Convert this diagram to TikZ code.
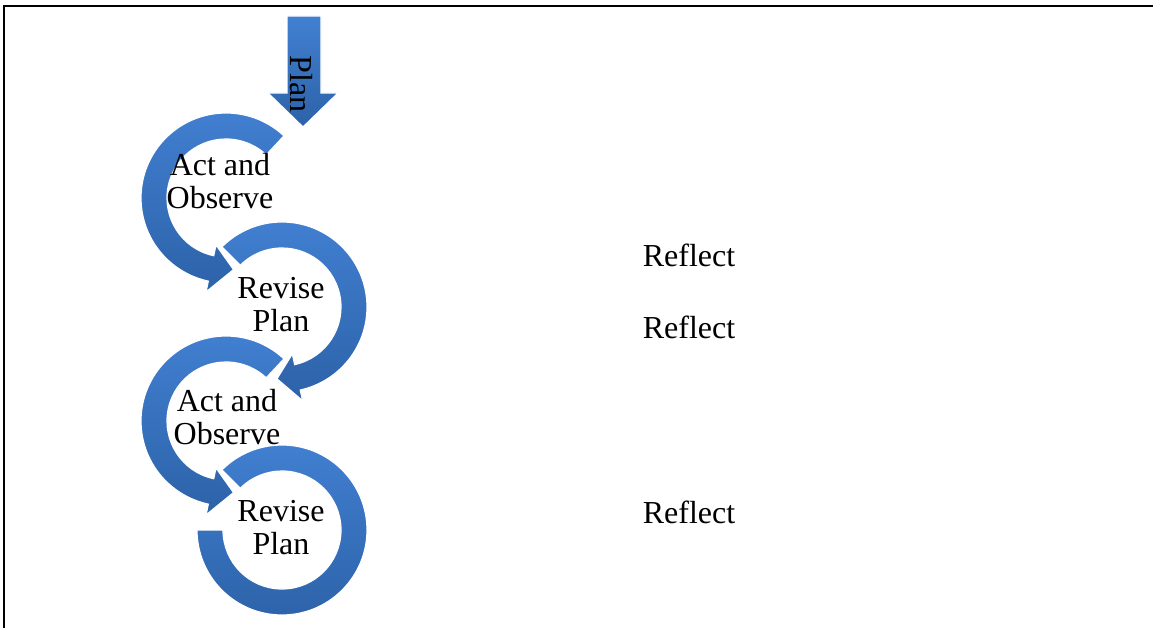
\documentclass[tikz,border=0pt]{standalone}
\usepackage{fontspec}
\setmainfont{Liberation Serif}
\definecolor{arcLight}{RGB}{66,128,210}
\definecolor{arcDark}{RGB}{44,98,168}
\begin{document}
\begin{tikzpicture}[x=1pt,y=1pt,
  arcshape/.style={top color=arcLight,bottom color=arcDark,draw=white,line width=1.2pt},
  lbl/.style={font=\fontsize{32}{33}\selectfont,align=center,inner sep=0pt,text=black}]
\useasboundingbox (0,0) rectangle (1153,-628);
% frame
\draw[line width=2pt] (4,-628) -- (4,-6) -- (1153,-6);
% Plan arrow
\path[arcshape] (287,-16) -- (321,-16) -- (321,-93) -- (338,-93) -- (303,-127) -- (268,-93) -- (287,-93) -- cycle;
\node[lbl,rotate=-90] (plan) at (301,-84) {Plan};
% circle 1
\begin{scope}[shift={(226,-198)}]
\path[arcshape] (47:85) arc[start angle=47,end angle=258,radius=85] -- (258:96) -- (276:72) -- (258:48) -- (258:59) arc[start angle=258,end angle=47,radius=59] -- cycle;
\end{scope}
% circle 2
\begin{scope}[shift={(282,-307)}]
\path[arcshape] (135:85) arc[start angle=135,end angle=-77.6,radius=85] -- (-77.6:96) -- (-94:72) -- (-77.6:48) -- (-77.6:59) arc[start angle=-77.6,end angle=135,radius=59] -- cycle;
\end{scope}
% circle 3
\begin{scope}[shift={(226,-421)}]
\path[arcshape] (47:85) arc[start angle=47,end angle=258,radius=85] -- (258:96) -- (276:72) -- (258:48) -- (258:59) arc[start angle=258,end angle=47,radius=59] -- cycle;
\end{scope}
% circle 4
\begin{scope}[shift={(282,-530)}]
\path[arcshape] (135:85) arc[start angle=135,end angle=-180,radius=85] -- (180:59) arc[start angle=-180,end angle=135,radius=59] -- cycle;
\end{scope}
% labels
\node[lbl] (ao1) at (220,-181) {Act and\\Observe};
\node[lbl] (rp2) at (281,-305) {Revise\\Plan};
\node[lbl] (ao3) at (227,-417) {Act and\\Observe};
\node[lbl] (rp4) at (281,-528) {Revise\\Plan};
\node[lbl] (rf1) at (689,-255) {Reflect};
\node[lbl] (rf2) at (689,-327) {Reflect};
\node[lbl] (rf3) at (689,-512) {Reflect};
\end{tikzpicture}
\end{document}
